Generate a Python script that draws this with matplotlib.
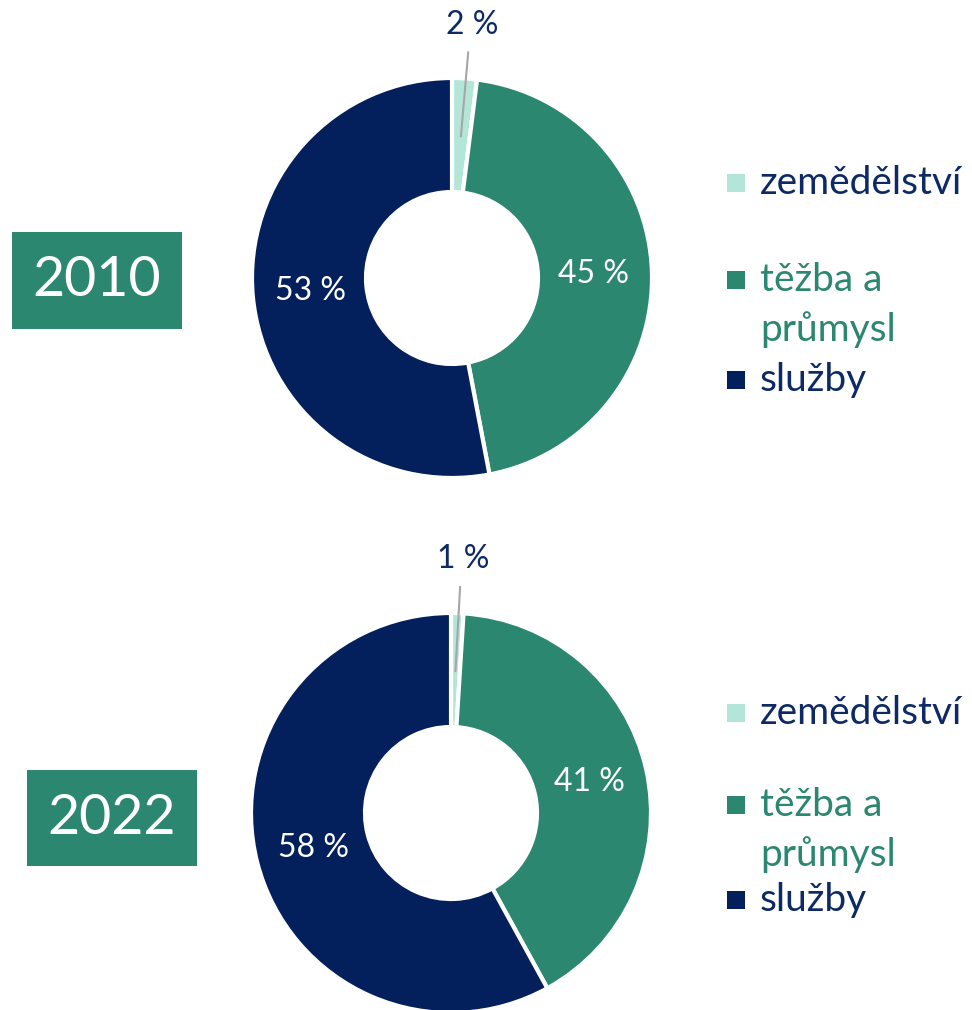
import numpy as np
import matplotlib
matplotlib.use('Agg')
from matplotlib import pyplot as plt
from matplotlib.patches import Rectangle

plt.rcParams['font.family'] = ['Lato', 'DejaVu Sans']

years = ['2010', '2022']
sectors = ['zemědělství', 'těžba a\nprůmysl', 'služby']
shares_2010 = [2, 45, 53]
shares_2022 = [1, 41, 58]

colors = ['#b3e6d7', '#2c8770', '#03205c']
text_navy = '#0d2a66'
label_colors = [text_navy, '#2c8770', text_navy]

W, H = 972, 1010
fig = plt.figure(figsize=(W / 100, H / 100), dpi=100)

# pixel layout of each donut panel
panels = [
    dict(values=shares_2010, cx=452, cy=278, box=(12, 232, 170, 97),
         leg_x=727, leg_y=[183, 280, 380]),
    dict(values=shares_2022, cx=451, cy=813, box=(27, 770, 170, 96),
         leg_x=727, leg_y=[713, 805, 900]),
]

R = 200  # outer radius in px
for year, p in zip(years, panels):
    half = 1.1 * R
    ax = fig.add_axes([(p['cx'] - half) / W, 1 - (p['cy'] + half) / H,
                       2 * half / W, 2 * half / H])
    wedges, _ = ax.pie(p['values'], colors=colors, startangle=90,
                       counterclock=False, radius=1.0,
                       wedgeprops=dict(width=0.57, edgecolor='white', linewidth=3))
    ax.set_xlim(-1.1, 1.1)
    ax.set_ylim(-1.1, 1.1)
    ax.set_aspect('equal')
    ax.axis('off')
    for w, v in zip(wedges, p['values']):
        ang = np.deg2rad((w.theta1 + w.theta2) / 2)
        if v < 5:
            ax.plot([1.13 * np.cos(ang) + 0.01, 0.71 * np.cos(ang)],
                    [1.13 * np.sin(ang), 0.71 * np.sin(ang)],
                    color='#a6a6a6', lw=1.5, clip_on=False)
            ax.text(1.27 * np.cos(ang) + 0.02, 1.27 * np.sin(ang), f'{v} %',
                    ha='center', va='center', fontsize=23, color=text_navy)
        else:
            ax.text(0.71 * np.cos(ang), 0.71 * np.sin(ang), f'{v} %',
                    ha='center', va='center', fontsize=23, color='white')

    # year box
    bx, by, bw, bh = p['box']
    fig.patches.append(Rectangle((bx / W, 1 - (by + bh) / H), bw / W, bh / H,
                                 transform=fig.transFigure, facecolor='#2c8770',
                                 edgecolor='none'))
    fig.text((bx + bw / 2) / W, 1 - (by + bh / 2) / H, year, ha='center',
             va='center', fontsize=40, color='white')

    # legend
    for lab, c, tc, ly in zip(sectors, colors, label_colors, p['leg_y']):
        s = 18
        fig.patches.append(Rectangle((p['leg_x'] / W, 1 - (ly + s / 2) / H), s / W, s / H,
                                     transform=fig.transFigure, facecolor=c,
                                     edgecolor='none'))
        for k, line in enumerate(lab.split('\n')):
            fig.text((p['leg_x'] + 33) / W, 1 - (ly + 11 + 50 * k) / H, line,
                     ha='left', va='baseline', fontsize=28, color=tc)

fig.savefig('out.png', dpi=100, facecolor='white')
